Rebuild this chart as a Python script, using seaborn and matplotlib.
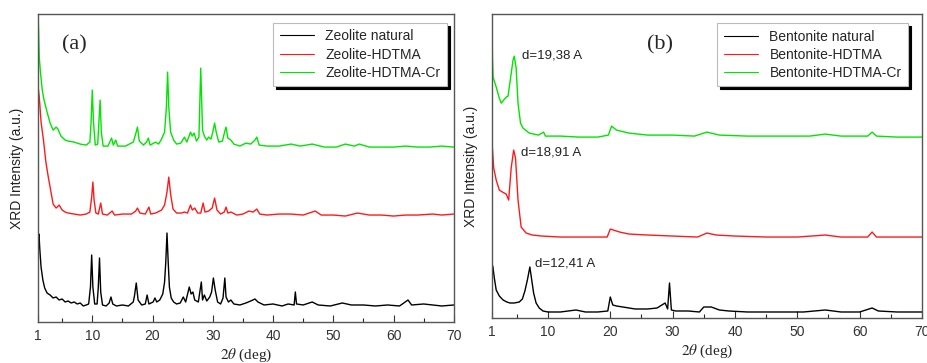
import matplotlib
matplotlib.use("Agg")
import matplotlib.pyplot as plt
import seaborn as sns
import pandas as pd
from matplotlib.ticker import FixedLocator

# ---- panel (a): zeolite, 2theta (deg) vs intensity (a.u., offset stacked)
zeo_nat_x = [1.0, 1.15, 1.3, 1.5, 1.8, 2.1, 2.5, 3.0, 3.5, 4.0, 4.5, 5.0, 5.5, 6.0, 6.5, 7.0, 7.5,
             8.0, 8.5, 9.0, 9.4, 9.7, 9.9, 10.1, 10.4, 10.8, 11.0, 11.2, 11.4, 11.7, 12.3, 12.8,
             13.1, 13.4, 14.0, 15.0, 16.0, 16.8, 17.0, 17.3, 17.6, 18.2, 18.8, 19.1, 19.4, 20.1,
             20.4, 20.7, 21.2, 21.7, 22.0, 22.2, 22.4, 22.6, 22.8, 23.1, 23.5, 24.0, 24.6, 25.1,
             25.5, 25.9, 26.1, 26.4, 26.7, 27.0, 27.6, 28.1, 28.3, 28.6, 29.0, 29.5, 29.8, 30.1,
             30.4, 30.8, 31.3, 31.7, 32.0, 32.2, 32.6, 33.0, 33.5, 34.5, 35.5, 36.3, 37.0, 37.5,
             38.5, 40.0, 41.5, 42.5, 43.5, 43.7, 43.9, 45.0, 46.5, 47.5, 49.5, 51.5, 53.0, 55.0,
             57.0, 59.0, 61.0, 62.4, 63.0, 65.0, 66.5, 68.0, 70.0]
zeo_nat_y = [80, 88, 72, 55, 42, 34, 29, 27, 24, 25, 22, 23, 20, 21, 19, 20, 18,
             19, 16, 17, 18, 35, 67, 35, 18, 18, 35, 64, 30, 17, 16, 19,
             25, 18, 16, 17, 16, 20, 26, 39, 22, 17, 18, 27, 18, 20,
             24, 20, 22, 28, 40, 60, 89, 60, 35, 24, 20, 18, 19, 25,
             20, 30, 35, 28, 30, 22, 20, 40, 22, 27, 21, 25, 30, 44,
             32, 20, 18, 24, 44, 25, 20, 22, 18, 17, 19, 21, 23, 20,
             17, 18, 16, 18, 17, 30, 18, 17, 20, 17, 16, 19, 17, 17,
             16, 17, 16, 22, 17, 18, 17, 16, 17]

zeo_hd_x = [1.0, 1.2, 1.5, 1.9, 2.3, 2.7, 3.0, 3.5, 4.0, 4.5, 5.0, 5.5, 6.0, 7.0, 8.0, 9.0, 9.6,
            9.9, 10.1, 10.3, 10.6, 11.0, 11.4, 11.7, 12.5, 13.3, 13.7, 15.0, 16.5, 17.2, 17.5,
            17.9, 18.8, 19.4, 19.7, 20.5, 21.5, 22.0, 22.4, 22.7, 23.0, 23.4, 24.0, 24.8, 25.3,
            25.8, 26.3, 26.6, 27.0, 27.5, 28.0, 28.4, 28.7, 29.3, 29.9, 30.3, 30.7, 31.3, 31.9,
            32.2, 32.5, 33.0, 34.0, 35.0, 36.0, 36.7, 37.3, 37.8, 39.0, 41.0, 43.0, 45.0, 47.0,
            48.0, 50.0, 52.0, 54.0, 56.0, 58.0, 60.0, 62.0, 64.0, 66.5, 68.0, 70.0]
zeo_hd_y = [236, 225, 200, 182, 160, 145, 135, 118, 114, 117, 112, 110, 109, 108, 107, 108, 110,
            125, 140, 122, 109, 108, 119, 108, 107, 111, 107, 108, 108, 111, 114,
            109, 108, 115, 108, 109, 112, 117, 130, 145, 128, 113, 109, 109, 110,
            109, 117, 112, 114, 109, 109, 119, 110, 111, 114, 124, 112, 108, 110,
            115, 109, 110, 107, 108, 111, 110, 113, 108, 107, 108, 108, 107, 111,
            107, 107, 106, 109, 107, 107, 106, 107, 107, 108, 107, 108]

zeo_cr_x = [1.0, 1.1, 1.2, 1.4, 1.7, 2.0, 2.5, 3.0, 3.5, 4.0, 4.3, 4.8, 5.5, 6.0, 7.0, 8.0, 9.0,
            9.6, 9.8, 10.0, 10.2, 10.5, 10.9, 11.1, 11.3, 11.5, 11.8, 12.6, 13.2, 13.5, 13.9,
            14.2, 15.5, 16.8, 17.2, 17.5, 17.8, 18.5, 19.0, 19.3, 19.6, 20.5, 21.0, 21.5, 22.0,
            22.3, 22.5, 22.7, 23.0, 23.5, 24.0, 24.7, 25.3, 25.7, 26.3, 26.6, 26.9, 27.3, 27.7,
            28.0, 28.3, 28.6, 29.0, 29.3, 29.7, 30.0, 30.3, 30.6, 31.0, 31.6, 32.0, 32.2, 32.5,
            33.0, 33.5, 34.5, 35.5, 36.3, 37.0, 37.3, 37.7, 39.0, 41.0, 43.0, 44.5, 46.5, 48.5,
            50.5, 52.0, 53.5, 54.3, 56.0, 58.0, 60.0, 62.0, 64.0, 66.0, 68.0, 70.0]
zeo_cr_y = [308, 290, 265, 250, 232, 222, 210, 199, 192, 195, 193, 186, 182, 181, 180, 178, 177,
            180, 200, 232, 200, 177, 178, 200, 222, 190, 176, 176, 184, 177, 182,
            176, 176, 180, 188, 195, 181, 177, 180, 184, 177, 180, 178, 183, 190,
            215, 250, 215, 190, 182, 178, 179, 185, 180, 190, 186, 189, 181, 185,
            254, 192, 186, 182, 185, 183, 190, 199, 189, 180, 181, 191, 195, 184,
            182, 178, 176, 179, 178, 182, 185, 177, 176, 176, 178, 176, 178, 175,
            175, 178, 176, 178, 175, 175, 175, 176, 175, 175, 176, 175]

# ---- panel (b): bentonite
ben_nat_x = [1.0, 1.15, 1.4, 1.7, 2.2, 2.8, 3.4, 3.9, 4.6, 5.4, 5.9, 6.3, 6.7, 7.1, 7.4, 7.7, 8.1,
             8.6, 9.2, 10.0, 12.0, 14.5, 16.0, 18.0, 19.6, 20.0, 20.4, 21.0, 22.0, 24.0, 26.0,
             27.5, 28.8, 29.2, 29.5, 29.8, 30.5, 32.5, 34.3, 35.0, 36.2, 37.5, 39.0, 42.0, 45.0,
             48.0, 51.0, 54.5, 57.0, 60.0, 62.0, 63.0, 66.0, 70.0]
ben_nat_y = [48, 52, 40, 28, 22, 18, 16, 15, 15, 16, 19, 27, 38, 51, 38, 25, 15,
             10, 7, 6, 6, 8, 6, 6, 7, 21, 13, 12, 11, 9, 9,
             10, 15, 9, 35, 8, 7, 7, 6, 11, 11, 8, 7, 6, 6,
             6, 6, 8, 6, 6, 10, 7, 6, 6]

ben_hd_x = [1.0, 1.3, 1.7, 2.2, 2.7, 3.3, 3.7, 4.1, 4.5, 4.8, 5.2, 5.7, 6.5, 7.5, 9.0, 12.0, 15.0,
            19.5, 20.0, 21.5, 23.0, 26.0, 30.0, 34.0, 35.5, 37.0, 40.0, 45.0, 50.0, 54.5, 57.0,
            61.3, 62.0, 62.7, 66.0, 70.0]
ben_hd_y = [178, 150, 138, 128, 126, 124, 118, 150, 168, 160, 118, 91, 85, 83, 82, 81, 81,
            81, 89, 86, 84, 83, 82, 81, 85, 83, 82, 81, 81, 83, 81,
            81, 86, 81, 81, 81]

ben_cr_x = [1.0, 1.1, 1.2, 1.7, 2.2, 2.5, 2.9, 3.3, 3.6, 4.0, 4.4, 4.6, 4.9, 5.2, 5.6, 6.0, 7.0,
            8.5, 9.3, 9.6, 12.0, 15.0, 18.0, 19.7, 20.2, 21.0, 23.0, 26.0, 30.0, 33.5, 35.5,
            37.5, 42.0, 47.0, 52.0, 54.5, 57.0, 61.3, 62.0, 62.7, 66.0, 70.0]
ben_cr_y = [304, 260, 241, 231, 220, 215, 218, 221, 222, 240, 258, 262, 250, 215, 195, 190, 185,
            183, 186, 182, 182, 181, 181, 183, 192, 188, 185, 183, 183, 182, 186,
            183, 182, 182, 182, 184, 182, 182, 186, 182, 181, 181]

zeo_labels = ["Zeolite natural", "Zeolite-HDTMA", "Zeolite-HDTMA-Cr"]
ben_labels = ["Bentonite natural", "Bentonite-HDTMA", "Bentonite-HDTMA-Cr"]
colors = ["black", "#ff1a1a", "#00e600"]

ticks = [1, 10, 20, 30, 40, 50, 60, 70]
minor_ticks = [5, 15, 25, 35, 45, 55, 65]

sns.set_theme(style="white")
plt.rcParams["font.family"] = ["Liberation Sans", "DejaVu Sans"]
plt.rcParams["mathtext.fontset"] = "stix"

fig = plt.figure(figsize=(9.28, 3.63), dpi=100)
ax_a = fig.add_axes([0.041, 0.113, 0.448, 0.848])
ax_b = fig.add_axes([0.530, 0.124, 0.4635, 0.837])


def draw_panel(ax, series, labels, ymax, legend_anchor):
    for (x, y), label, color in zip(series, labels, colors):
        df = pd.DataFrame({"two_theta": x, "intensity": y})
        sns.lineplot(data=df, x="two_theta", y="intensity", ax=ax, color=color,
                     lw=1.0, estimator=None, sort=False, label=label)
    ax.set_xlim(1, 70)
    ax.set_ylim(0, ymax)
    ax.set_yticks([])
    ax.xaxis.set_major_locator(FixedLocator(ticks))
    ax.xaxis.set_minor_locator(FixedLocator(minor_ticks))
    ax.tick_params(axis="x", which="major", direction="in", length=5, width=0.8,
                   bottom=True, labelsize=10, pad=5, colors="#333333")
    ax.tick_params(axis="x", which="minor", direction="in", length=3, width=0.8, bottom=True)
    for s in ax.spines.values():
        s.set_color("#555555")
        s.set_linewidth(1.0)
    ax.set_xlabel(r"$2\theta$ (deg)", family="Liberation Serif", fontsize=11, labelpad=3)
    ax.set_ylabel("XRD Intensity (a.u.)", fontsize=10, labelpad=10, color="#222222")
    leg = ax.legend(loc="upper right", bbox_to_anchor=legend_anchor, borderaxespad=0,
                    fancybox=False, shadow={"color": "black", "alpha": 1},
                    fontsize=10, handlelength=2.5, labelspacing=0.3, framealpha=1,
                    edgecolor="#bbbbbb", borderpad=0.45)
    leg.get_frame().set_linewidth(0.8)
    for line in leg.get_lines():
        line.set_linewidth(0.8)


draw_panel(ax_a, [(zeo_nat_x, zeo_nat_y), (zeo_hd_x, zeo_hd_y), (zeo_cr_x, zeo_cr_y)],
           zeo_labels, 308, (0.983, 0.971))
draw_panel(ax_b, [(ben_nat_x, ben_nat_y), (ben_hd_x, ben_hd_y), (ben_cr_x, ben_cr_y)],
           ben_labels, 304, (0.967, 0.970))

ax_a.text(0.058, 0.90, "(a)", transform=ax_a.transAxes, family="Liberation Serif",
          fontsize=16, ha="left", va="center")
ax_b.text(0.36, 0.90, "(b)", transform=ax_b.transAxes, family="Liberation Serif",
          fontsize=16, ha="left", va="center")

ax_b.text(5.9, 263, "d=19,38 A", fontsize=9.5, ha="left", va="center", color="#222222")
ax_b.text(5.6, 166, "d=18,91 A", fontsize=9.5, ha="left", va="center", color="#222222")
ax_b.text(8.0, 55, "d=12,41 A", fontsize=9.5, ha="left", va="center", color="#222222")

fig.savefig("out.png", dpi=100)
